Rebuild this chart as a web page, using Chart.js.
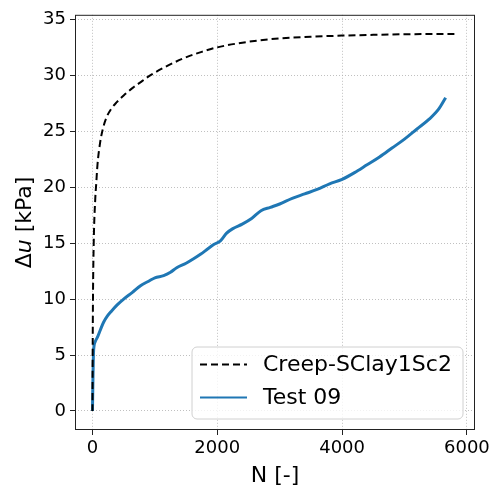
<!DOCTYPE html>
<html>
<head>
<meta charset="utf-8">
<script src="https://cdn.jsdelivr.net/npm/chart.js@4.4.0/dist/chart.umd.min.js"></script>
<style>
  body { margin: 0; background: #fff; }
</style>
</head>
<body>
<canvas id="chart" width="500" height="489"></canvas>
<script>
// model curve
const creepN = [0, 3, 8, 20, 45, 60, 80, 123, 170, 230, 300, 390, 500, 650, 800, 925, 1150, 1450, 1750, 2000, 2500, 3000, 3500, 4000, 4500, 5000, 5800];
const creepDu = [0, 5, 10, 15, 19, 20.3, 22, 24, 25.3, 26.3, 27, 27.6, 28.2, 28.9, 29.5, 30, 30.7, 31.5, 32.1, 32.5, 33.0, 33.3, 33.45, 33.55, 33.62, 33.67, 33.7];

// measured
const testN = [0, 8, 15, 25, 45, 80, 130, 180, 240, 300, 400, 500, 640, 770, 900, 1000, 1140, 1250, 1350, 1500, 1620, 1730, 1850, 1950, 2050, 2150, 2250, 2400, 2550, 2700, 2850, 3000, 3200, 3400, 3600, 3800, 4000, 4200, 4400, 4600, 4800, 5000, 5200, 5400, 5550, 5660];
const testDu = [0, 3, 5, 5.8, 6.2, 6.6, 7.3, 7.95, 8.5, 8.9, 9.5, 10.0, 10.6, 11.2, 11.6, 11.9, 12.1, 12.4, 12.8, 13.2, 13.6, 14.0, 14.5, 14.9, 15.2, 15.9, 16.3, 16.7, 17.2, 17.9, 18.2, 18.5, 19.0, 19.4, 19.8, 20.3, 20.7, 21.3, 22.0, 22.7, 23.5, 24.3, 25.2, 26.1, 27.0, 28.0];

const xTicks = [0, 2000, 4000, 6000];
const yTicks = [0, 5, 10, 15, 20, 25, 30, 35];
const seriesNames = ['Creep-SClay1Sc2', 'Test 09'];
const xTitle = 'N [-]';

const FONT = 'DejaVu Sans';
const BLUE = '#1f77b4';

const toPts = (xs, ys) => xs.map((x, i) => ({ x: x, y: ys[i] }));

const decor = {
  id: 'decor',
  afterDatasetsDraw(chart) {
    const ctx = chart.ctx;
    const a = chart.chartArea;
    ctx.save();
    // frame
    ctx.strokeStyle = '#222';
    ctx.lineWidth = 1;
    ctx.strokeRect(a.left + 0.5, a.top + 0.5, a.right - a.left - 1, a.bottom - a.top - 1);

    // legend box
    const bx = 192, by = 347, bw = 271, bh = 72, r = 5;
    ctx.beginPath();
    ctx.moveTo(bx + r, by);
    ctx.arcTo(bx + bw, by, bx + bw, by + bh, r);
    ctx.arcTo(bx + bw, by + bh, bx, by + bh, r);
    ctx.arcTo(bx, by + bh, bx, by, r);
    ctx.arcTo(bx, by, bx + bw, by, r);
    ctx.closePath();
    ctx.fillStyle = 'rgba(255,255,255,0.8)';
    ctx.fill();
    ctx.strokeStyle = '#d0d0d0';
    ctx.lineWidth = 1;
    ctx.stroke();

    const rows = [
      { y: 364.5, color: '#000', dash: [7, 4], name: seriesNames[0] },
      { y: 397.5, color: BLUE, dash: [], name: seriesNames[1] }
    ];
    ctx.font = '22px "' + FONT + '"';
    ctx.textBaseline = 'middle';
    ctx.textAlign = 'left';
    rows.forEach(row => {
      ctx.beginPath();
      ctx.setLineDash(row.dash);
      ctx.strokeStyle = row.color;
      ctx.lineWidth = 2;
      ctx.moveTo(200, row.y);
      ctx.lineTo(247, row.y);
      ctx.stroke();
      ctx.setLineDash([]);
      ctx.fillStyle = '#000';
      ctx.fillText(row.name, 263, row.y + 1);
    });

    // axis titles
    ctx.fillStyle = '#000';
    ctx.textAlign = 'center';
    ctx.textBaseline = 'alphabetic';
    ctx.fillText(xTitle, (a.left + a.right) / 2, 482);

    ctx.translate(31, (a.top + a.bottom) / 2);
    ctx.rotate(-Math.PI / 2);
    const parts = [
      { t: '\u0394', f: '22px "' + FONT + '"' },
      { t: 'u', f: 'italic 22px "' + FONT + '"' },
      { t: ' [kPa]', f: '22px "' + FONT + '"' }
    ];
    let total = 0;
    parts.forEach(p => { ctx.font = p.f; p.w = ctx.measureText(p.t).width; total += p.w; });
    let cx = -total / 2;
    ctx.textAlign = 'left';
    parts.forEach(p => { ctx.font = p.f; ctx.fillText(p.t, cx, 0); cx += p.w; });
    ctx.restore();
  }
};

const gridCommon = {
  color: '#b0b0b0',
  lineWidth: 0.8,
  tickColor: '#222',
  tickLength: 5,
  tickWidth: 1,
  tickBorderDash: [],
  drawOnChartArea: true
};

new Chart(document.getElementById('chart'), {
  type: 'line',
  data: {
    datasets: [
      {
        label: seriesNames[0],
        data: toPts(creepN, creepDu),
        borderColor: '#000',
        borderWidth: 2,
        borderDash: [7, 4],
        pointRadius: 0,
        cubicInterpolationMode: 'monotone',
        fill: false
      },
      {
        label: seriesNames[1],
        data: toPts(testN, testDu),
        borderColor: BLUE,
        borderWidth: 3,
        pointRadius: 0,
        cubicInterpolationMode: 'monotone',
        fill: false
      }
    ]
  },
  options: {
    responsive: false,
    animation: false,
    layout: { padding: { left: 0, right: 25, top: 9, bottom: 0 } },
    plugins: { legend: { display: false }, tooltip: { enabled: false } },
    scales: {
      x: {
        type: 'linear',
        min: -280,
        max: 6130,
        afterBuildTicks: s => { s.ticks = xTicks.map(v => ({ value: v })); },
        afterFit: s => { s.height = 59; },
        grid: gridCommon,
        border: { display: false, dash: [1, 2] },
        ticks: {
          color: '#000',
          padding: 3,
          maxRotation: 0,
          callback: v => String(v),
          font: { family: FONT, size: 18 }
        }
      },
      y: {
        type: 'linear',
        min: -1.7,
        max: 35.41,
        afterBuildTicks: s => { s.ticks = yTicks.map(v => ({ value: v })); },
        afterFit: s => { s.width = 75; },
        grid: gridCommon,
        border: { display: false, dash: [1, 2] },
        ticks: {
          color: '#000',
          padding: 4,
          callback: v => String(v),
          font: { family: FONT, size: 18 }
        }
      }
    }
  },
  plugins: [decor]
});
</script>
</body>
</html>
